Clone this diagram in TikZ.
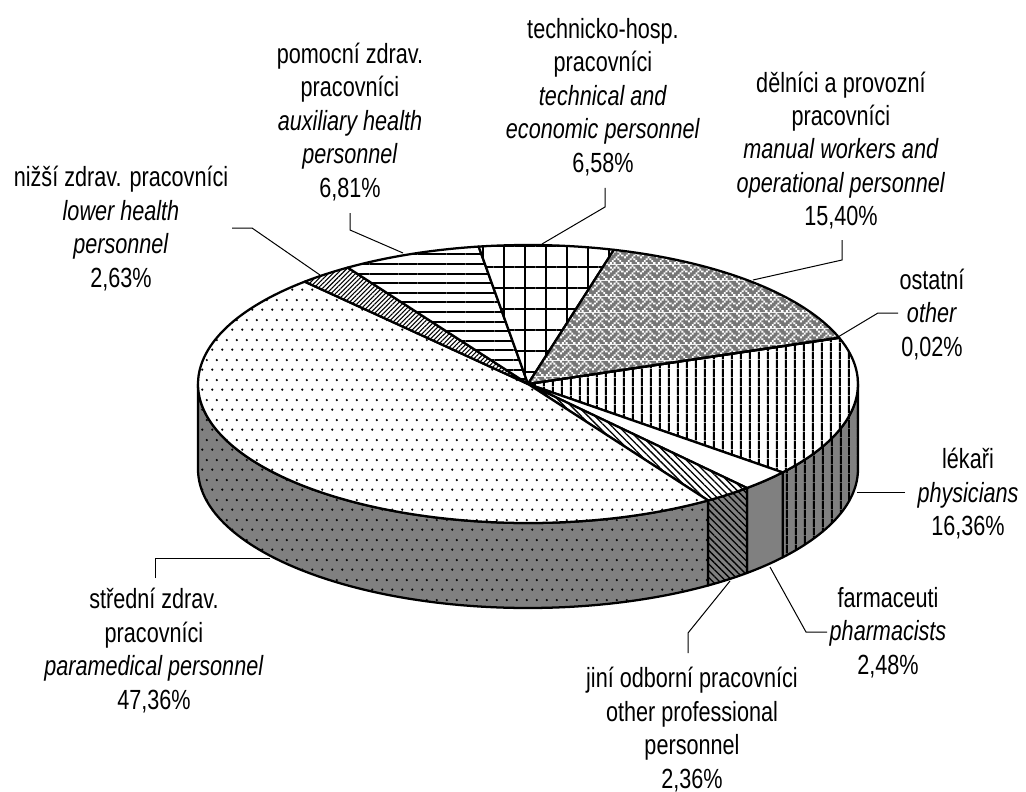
\documentclass[tikz,border=0pt]{standalone}
\usepackage{fontspec}
\setmainfont{Liberation Sans}[FakeStretch=0.78]
\usetikzlibrary{calc,patterns,patterns.meta}
\definecolor{sidegray}{RGB}{128,128,128}
\definecolor{weavedark}{RGB}{118,118,118}
\newcommand{\lblfont}{\fontsize{20.8pt}{25.1pt}\selectfont}
% weave pattern (8x8 bitmap, 1.5pt cells): light strands on a dark ground
\pgfdeclarepatterninherentlycolored{weave}{\pgfqpoint{0pt}{0pt}}{\pgfqpoint{12pt}{12pt}}{\pgfqpoint{12pt}{12pt}}{%
 \pgfsetfillcolor{weavedark}%
 \pgfpathrectangle{\pgfqpoint{0pt}{0pt}}{\pgfqpoint{12pt}{12pt}}%
 \pgfusepath{fill}%
 \pgfsetfillcolor{white}%
 \pgfpathrectangle{\pgfqpoint{0pt}{10.5pt}}{\pgfqpoint{1.5pt}{1.5pt}}%
 \pgfpathrectangle{\pgfqpoint{6pt}{10.5pt}}{\pgfqpoint{1.5pt}{1.5pt}}%
 \pgfpathrectangle{\pgfqpoint{1.5pt}{9pt}}{\pgfqpoint{1.5pt}{1.5pt}}%
 \pgfpathrectangle{\pgfqpoint{4.5pt}{9pt}}{\pgfqpoint{1.5pt}{1.5pt}}%
 \pgfpathrectangle{\pgfqpoint{7.5pt}{9pt}}{\pgfqpoint{1.5pt}{1.5pt}}%
 \pgfpathrectangle{\pgfqpoint{3pt}{7.5pt}}{\pgfqpoint{1.5pt}{1.5pt}}%
 \pgfpathrectangle{\pgfqpoint{9pt}{7.5pt}}{\pgfqpoint{1.5pt}{1.5pt}}%
 \pgfpathrectangle{\pgfqpoint{1.5pt}{6pt}}{\pgfqpoint{1.5pt}{1.5pt}}%
 \pgfpathrectangle{\pgfqpoint{7.5pt}{6pt}}{\pgfqpoint{1.5pt}{1.5pt}}%
 \pgfpathrectangle{\pgfqpoint{10.5pt}{6pt}}{\pgfqpoint{1.5pt}{1.5pt}}%
 \pgfpathrectangle{\pgfqpoint{0pt}{4.5pt}}{\pgfqpoint{1.5pt}{1.5pt}}%
 \pgfpathrectangle{\pgfqpoint{6pt}{4.5pt}}{\pgfqpoint{1.5pt}{1.5pt}}%
 \pgfpathrectangle{\pgfqpoint{4.5pt}{3pt}}{\pgfqpoint{1.5pt}{1.5pt}}%
 \pgfpathrectangle{\pgfqpoint{7.5pt}{3pt}}{\pgfqpoint{1.5pt}{1.5pt}}%
 \pgfpathrectangle{\pgfqpoint{3pt}{1.5pt}}{\pgfqpoint{1.5pt}{1.5pt}}%
 \pgfpathrectangle{\pgfqpoint{9pt}{1.5pt}}{\pgfqpoint{1.5pt}{1.5pt}}%
 \pgfpathrectangle{\pgfqpoint{1.5pt}{0pt}}{\pgfqpoint{1.5pt}{1.5pt}}%
 \pgfpathrectangle{\pgfqpoint{4.5pt}{0pt}}{\pgfqpoint{1.5pt}{1.5pt}}%
 \pgfpathrectangle{\pgfqpoint{10.5pt}{0pt}}{\pgfqpoint{1.5pt}{1.5pt}}%
 \pgfusepath{fill}}
% staggered dots
\pgfdeclarepatternformonly{stagdots}{\pgfqpoint{0pt}{0pt}}{\pgfqpoint{7.5pt}{15pt}}{\pgfqpoint{7.5pt}{15pt}}{%
 \pgfpathcircle{\pgfqpoint{1.875pt}{1.875pt}}{0.95pt}%
 \pgfpathcircle{\pgfqpoint{5.625pt}{9.375pt}}{0.95pt}%
 \pgfusepath{fill}}
\tikzset{
 edge/.style={draw=black, line width=1.7pt, line join=round},
 topface/.style={edge, preaction={fill=white}},
 sideface/.style={edge, preaction={fill=sidegray}},
 pdots/.style={pattern=stagdots, pattern color=black},
 pvert/.style={pattern={Lines[angle=90, distance=6.5pt, line width=1.5pt]}, pattern color=black},
 phoriz/.style={pattern={Lines[angle=0, distance=7.2pt, line width=1.5pt]}, pattern color=black},
 pgrid/.style={pattern={Hatch[angle=0, distance=15.75pt, line width=1.5pt]}, pattern color=black},
 pne/.style={pattern={Lines[angle=45, distance=2.4pt, line width=0.8pt]}, pattern color=black},
 pnw/.style={pattern={Lines[angle=-45, distance=3.6pt, line width=1pt]}, pattern color=black},
 pweave/.style={pattern=weave},
 lbl/.style={font=\lblfont, align=center, inner sep=0pt},
 conn/.style={draw=black, line width=0.75pt},
}
\newcommand{\ptop}[3]{\draw[topface,#3] (C) -- ($(C)+(#1:247.5pt and 104.25pt)$) arc[start angle=#1, end angle=#2, x radius=247.5pt, y radius=104.25pt] -- cycle;}
\newcommand{\pside}[3]{\draw[sideface,#3] ($(C)+(#1:247.5pt and 104.25pt)$) arc[start angle=#1, end angle=#2, x radius=247.5pt, y radius=104.25pt] -- ++(0,85) arc[start angle=#2, end angle=#1, x radius=247.5pt, y radius=104.25pt] -- cycle;}
\begin{document}
\begin{tikzpicture}[x=0.75pt, y=-0.75pt]
\fill[white] (0,0) rectangle (1026,792);
\useasboundingbox (0,0) rectangle (1026,792);
\coordinate (C) at (528,384);
% side faces
\pside{0}{-39.496}{pvert}
\pside{-39.496}{-48.424}{}
\pside{-48.424}{-56.92}{pnw}
\pside{-56.92}{-180}{pdots}
% top faces
\ptop{19.4}{-39.496}{pvert}
\ptop{-39.496}{-48.424}{}
\ptop{-48.424}{-56.92}{pnw}
\ptop{-56.92}{-227.416}{pdots}
\ptop{-227.416}{-236.884}{pne}
\ptop{-236.884}{-261.4}{phoriz}
\ptop{-261.4}{-285.088}{pgrid}
\ptop{-285.088}{-340.528}{pweave}
\ptop{-340.528}{-340.6}{}
% labels
\node[lbl] (ltech) at (603,97) {technicko-hosp.\\pracovníci\\\textit{technical and}\\\textit{economic personnel}\\6,58\%};
\node[lbl] (lpom) at (350,122) {pomocní zdrav.\\pracovníci\\\textit{auxiliary health}\\\textit{personnel}\\6,81\%};
\node[lbl] (ldel) at (841,150.5) {dělníci a provozní\\pracovníci\\\textit{manual workers and}\\\textit{operational personnel}\\15,40\%};
\node[lbl] (lniz) at (121,228.5) {nižší zdrav. pracovníci\\\textit{lower health}\\\textit{personnel}\\2,63\%};
\node[lbl] (lost) at (932,314.5) {ostatní\\\textit{other}\\0,02\%};
\node[lbl] (llek) at (968,494) {lékaři\\\textit{physicians}\\16,36\%};
\node[lbl] (lfar) at (888,632.5) {farmaceuti\\\textit{pharmacists}\\2,48\%};
\node[lbl] (ljin) at (692,729.5) {jiní odborní pracovníci\\other professional\\personnel\\2,36\%};
\node[lbl] (lstr) at (154,650.5) {střední zdrav.\\pracovníci\\\textit{paramedical personnel}\\47,36\%};
% connector points
\coordinate (t1) at (605,188); \coordinate (t2) at (605,207); \coordinate (t3) at (542,244);
\coordinate (p1) at (350,213); \coordinate (p2) at (350,230); \coordinate (p3) at (403,253);
\coordinate (n1) at (232,228); \coordinate (n2) at (252,228); \coordinate (n3) at (320,275);
\coordinate (d1) at (842,240); \coordinate (d2) at (842,260); \coordinate (d3) at (753,280);
\coordinate (o1) at (898,313); \coordinate (o2) at (878,313); \coordinate (o3) at (838,337);
\coordinate (l1) at (905,492); \coordinate (l3) at (857,492);
\coordinate (f1) at (827,632); \coordinate (f2) at (806,632); \coordinate (f3) at (770,567);
\coordinate (j1) at (688,653); \coordinate (j2) at (688,633); \coordinate (j3) at (730,581);
\coordinate (s1) at (155,578); \coordinate (s2) at (155,558); \coordinate (s3) at (270,558);
\draw[conn] (t1) -- (t2) -- (t3);
\draw[conn] (p1) -- (p2) -- (p3);
\draw[conn] (n1) -- (n2) -- (n3);
\draw[conn] (d1) -- (d2) -- (d3);
\draw[conn] (o1) -- (o2) -- (o3);
\draw[conn] (l1) -- (l3);
\draw[conn] (f1) -- (f2) -- (f3);
\draw[conn] (j1) -- (j2) -- (j3);
\draw[conn] (s1) -- (s2) -- (s3);
\end{tikzpicture}
\end{document}
